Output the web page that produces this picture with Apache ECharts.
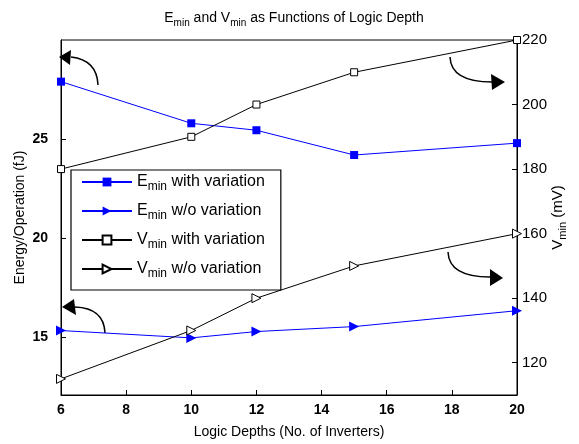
<!DOCTYPE html>
<html>
<head>
<meta charset="utf-8">
<script src="https://cdn.jsdelivr.net/npm/echarts@6/dist/echarts.min.js"></script>
<style>
  html, body { margin: 0; padding: 0; background: #fff; }
  #chart { width: 579px; height: 444px; }
</style>
</head>
<body>
<div id="chart"></div>
<script>
// logic depth (no. of inverters)
var depths = [6, 10, 12, 15, 20];
// energy per operation, fJ (left axis)
var eminVar = [27.9, 25.8, 25.45, 24.2, 24.8];
var eminNoVar = [15.35, 14.98, 15.3, 15.55, 16.35];
// minimum voltage, mV (right axis)
var vminVar = [180, 190, 200, 210, 220];
var vminNoVar = [115, 130, 140, 150, 160];

var leftTicks = [15, 20, 25];
var rightTicks = [120, 140, 160, 180, 200, 220];

var names = {
    'Emin with variation': ['E', ' with variation'],
    'Emin w/o variation': ['E', ' w/o variation'],
    'Vmin with variation': ['V', ' with variation'],
    'Vmin w/o variation': ['V', ' w/o variation']
};

function pairs(ys) {
    return depths.map(function (d, i) { return [d, ys[i]]; });
}

var font = 'Liberation Sans, Arial, sans-serif';
var subRich = {
    n: { fontSize: 14, fontFamily: font, fontWeight: 'normal', color: '#000' },
    s: { fontSize: 10, fontFamily: font, fontWeight: 'normal', color: '#000', padding: [9, 0, 0, 0] }
};

var myChart = echarts.init(document.getElementById('chart'));

var option = {
    backgroundColor: '#fff',
    animation: false,
    title: {
        text: '{n|E}{s|min}{n| and V}{s|min}{n| as Functions of Logic Depth}',
        left: 289,
        textAlign: 'center',
        top: 4,
        textStyle: { fontWeight: 'normal', rich: subRich }
    },
    grid: {
        left: 61, right: 62, top: 40, bottom: 45,
        show: true, borderColor: '#000', borderWidth: 1
    },
    legend: {
        orient: 'vertical',
        left: 71, top: 170,
        padding: [4, 16, 10, 10],
        itemGap: 10,
        itemWidth: 50, itemHeight: 11,
        backgroundColor: '#fff',
        borderColor: '#000', borderWidth: 1.2,
        borderRadius: 0,
        data: ['Emin with variation', 'Emin w/o variation', 'Vmin with variation', 'Vmin w/o variation'],
        formatter: function (name) {
            var p = names[name];
            return '{n|' + p[0] + '}{s|min}{n|' + p[1] + '}';
        },
        textStyle: {
            rich: {
                n: { fontSize: 16, fontFamily: font, color: '#000' },
                s: { fontSize: 12, fontFamily: font, color: '#000', padding: [10, 0, 0, 0] }
            }
        }
    },
    xAxis: {
        type: 'value',
        min: 6, max: 20, interval: 2,
        name: 'Logic Depths (No. of Inverters)',
        nameLocation: 'middle',
        nameGap: 30,
        nameTextStyle: { fontSize: 14, fontFamily: font, color: '#000' },
        axisLine: { lineStyle: { color: '#000', width: 1 } },
        axisTick: { inside: true, length: 5, lineStyle: { color: '#000' } },
        axisLabel: { fontSize: 14, fontWeight: 'bold', fontFamily: font, color: '#000', margin: 8 },
        splitLine: { show: false }
    },
    yAxis: [{
        type: 'value',
        min: 12.1, max: 30,
        position: 'left',
        name: 'Energy/Operation (fJ)',
        nameLocation: 'middle',
        nameGap: 34,
        nameMoveOverlap: false,
        nameTextStyle: { fontSize: 14, fontFamily: font, color: '#000' },
        axisLine: { show: true, lineStyle: { color: '#000', width: 1 } },
        axisTick: { inside: true, length: 5, customValues: leftTicks, lineStyle: { color: '#000' } },
        axisLabel: { customValues: leftTicks, fontSize: 14, fontWeight: 'bold', fontFamily: font, color: '#000', margin: 13 },
        splitLine: { show: false }
    }, {
        type: 'value',
        min: 110, max: 220,
        position: 'right',
        name: '{n|V}{s|min}{n| (mV)}',
        nameLocation: 'middle',
        nameGap: 31,
        nameMoveOverlap: false,
        nameRotate: 90,
        nameTextStyle: {
            rich: {
                n: { fontSize: 15, fontFamily: font, color: '#000' },
                s: { fontSize: 11, fontFamily: font, color: '#000', padding: [9, 0, 0, 0] }
            }
        },
        axisLine: { show: true, lineStyle: { color: '#000', width: 1 } },
        axisTick: { inside: true, length: 5, customValues: rightTicks, lineStyle: { color: '#000' } },
        axisLabel: { customValues: rightTicks, fontSize: 15, fontFamily: font, color: '#000', margin: 5 },
        splitLine: { show: false }
    }],
    series: [{
        name: 'Emin with variation',
        type: 'line',
        yAxisIndex: 0,
        data: pairs(eminVar),
        symbol: 'rect', symbolSize: 8,
        lineStyle: { color: '#0000ff', width: 1 },
        itemStyle: { color: '#0000ff', borderWidth: 0 }
    }, {
        name: 'Emin w/o variation',
        type: 'line',
        yAxisIndex: 0,
        data: pairs(eminNoVar),
        symbol: 'triangle', symbolSize: 10, symbolRotate: -90,
        lineStyle: { color: '#0000ff', width: 1 },
        itemStyle: { color: '#0000ff', borderWidth: 0 }
    }, {
        name: 'Vmin with variation',
        type: 'line',
        yAxisIndex: 1,
        data: pairs(vminVar),
        symbol: 'rect', symbolSize: 7,
        lineStyle: { color: '#000', width: 1 },
        itemStyle: { color: '#fff', borderColor: '#000', borderWidth: 1 }
    }, {
        name: 'Vmin w/o variation',
        type: 'line',
        yAxisIndex: 1,
        data: pairs(vminNoVar),
        symbol: 'triangle', symbolSize: 9, symbolRotate: -90,
        lineStyle: { color: '#000', width: 1 },
        itemStyle: { color: '#fff', borderColor: '#000', borderWidth: 1 }
    }],
    // curved arrows pointing to each series' axis
    graphic: [
        { type: 'bezierCurve', shape: { x1: 98, y1: 85, cpx1: 97, cpy1: 60, x2: 71, y2: 57 }, style: { stroke: '#000', lineWidth: 1.5, fill: null } },
        { type: 'polygon', shape: { points: [[59, 57], [71, 50], [70, 65]] }, style: { fill: '#000' } },
        { type: 'bezierCurve', shape: { x1: 450, y1: 57, cpx1: 451, cpy1: 82, x2: 492, y2: 82 }, style: { stroke: '#000', lineWidth: 1.5, fill: null } },
        { type: 'polygon', shape: { points: [[505, 82], [491, 74], [492, 90]] }, style: { fill: '#000' } },
        { type: 'bezierCurve', shape: { x1: 448, y1: 252, cpx1: 449, cpy1: 277, x2: 490, y2: 277 }, style: { stroke: '#000', lineWidth: 1.5, fill: null } },
        { type: 'polygon', shape: { points: [[503, 278], [490, 269], [490, 286]] }, style: { fill: '#000' } },
        { type: 'bezierCurve', shape: { x1: 105, y1: 333, cpx1: 104, cpy1: 308, x2: 75, y2: 307 }, style: { stroke: '#000', lineWidth: 1.5, fill: null } },
        { type: 'polygon', shape: { points: [[62, 307], [74, 299], [76, 315]] }, style: { fill: '#000' } }
    ]
};

myChart.setOption(option);

window.onresize = function () {
    myChart.resize();
};
</script>
</body>
</html>
